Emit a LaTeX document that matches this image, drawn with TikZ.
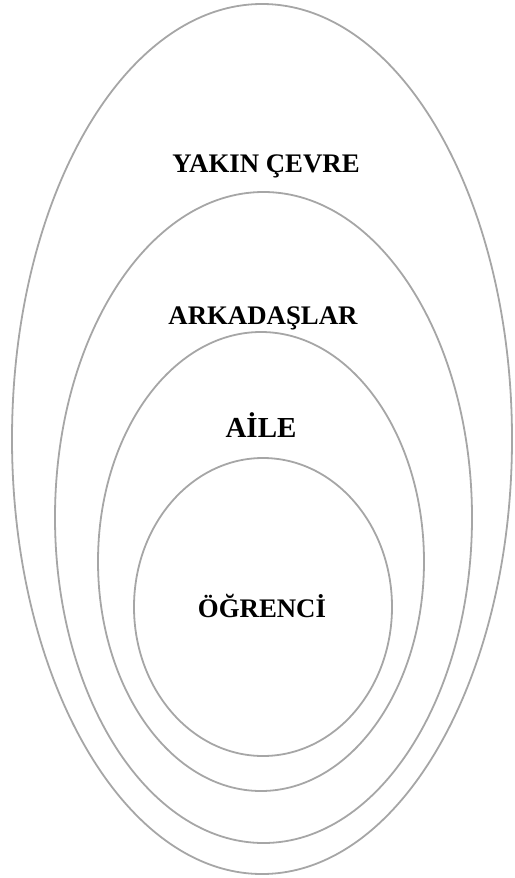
\documentclass[tikz,border=0pt]{standalone}
\usepackage{fontspec}
\setmainfont{Liberation Serif}
\usetikzlibrary{shapes.geometric}
\definecolor{ringgray}{RGB}{166,166,166}

\begin{document}
\begin{tikzpicture}[
    x=1pt, y=-1pt,
    ring/.style={ellipse, draw=ringgray, line width=1.8pt, inner sep=0pt},
    ringtext/.style={anchor=base, font=\bfseries\fontsize{26.8}{31}\selectfont}
  ]
    \useasboundingbox (0,0) rectangle (514,878);

    % nested circles, outside to inside
    \node[ring, minimum width=500pt, minimum height=870pt] (cevre) at (262,439) {};
    \node[ring, minimum width=417pt, minimum height=651pt] (arkadas) at (263.5,517.5) {};
    \node[ring, minimum width=326pt, minimum height=459pt] (aile) at (261,561.5) {};
    \node[ring, minimum width=258pt, minimum height=298pt] (ogrenci) at (263,607) {};

    % labels
    \node[ringtext] (cevretext) at (266,172) {YAKIN ÇEVRE};
    \node[ringtext] (arkadastext) at (263,324) {ARKADAŞLAR};
    \node[ringtext, font=\bfseries\fontsize{29}{33}\selectfont] (ailetext) at (261,437) {AİLE};
    \node[ringtext] (ogrencitext) at (262,617) {ÖĞRENCİ};
  \end{tikzpicture}
\end{document}
